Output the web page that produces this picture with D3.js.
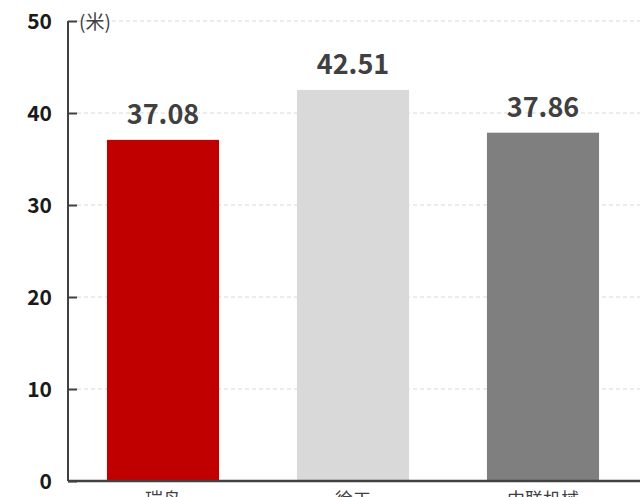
<!DOCTYPE html>
<html><head><meta charset="utf-8">
<script src="https://cdn.jsdelivr.net/npm/d3@7"></script>
<style>body{margin:0;background:#fff}svg{display:block}</style>
</head><body>
<script>
const categories = ["瑞鸟", "徐工", "中联机械"];
const values = [37.08, 42.51, 37.86];
const colors = ["#C00000", "#D9D9D9", "#7F7F7F"];
const yTicks = [0, 10, 20, 30, 40, 50];
const unitLabel = "(米)";

const W = 640, H = 497;
const svg = d3.select("body").append("svg").attr("width", W).attr("height", H);
const font = "'Noto Sans CJK SC','Noto Sans',sans-serif";

const x = d3.scaleBand().domain(categories).range([68, 638]).paddingInner(0.41).paddingOuter(0.205);
const y = d3.scaleLinear().domain([0, 50]).range([481, 21]);

// gridlines
svg.append("g").selectAll("line").data(yTicks.filter(d => d > 0)).join("line")
  .attr("x1", 77).attr("x2", W).attr("y1", d => y(d)).attr("y2", d => y(d))
  .attr("stroke", "#d9d9d9").attr("stroke-width", 1).attr("stroke-dasharray", "4,3");

// bars
svg.append("g").selectAll("rect").data(values).join("rect")
  .attr("x", (d, i) => x(categories[i])).attr("width", x.bandwidth())
  .attr("y", d => y(d)).attr("height", d => y(0) - y(d))
  .attr("fill", (d, i) => colors[i]);

// value labels
svg.append("g").selectAll("text").data(values).join("text")
  .attr("x", (d, i) => x(categories[i]) + x.bandwidth() / 2)
  .attr("y", d => y(d) - 16)
  .attr("text-anchor", "middle").attr("font-family", font).attr("font-weight", "bold")
  .attr("font-size", 27).attr("fill", "#404040").text(d => d.toFixed(2));

// y axis
const yAxis = d3.axisLeft(y).tickValues(yTicks).tickSize(-9).tickPadding(16).tickFormat(d3.format("d"));
const gy = svg.append("g").attr("transform", "translate(68,0)").call(yAxis);
gy.select(".domain").attr("stroke", "#404040").attr("stroke-width", 2).attr("d", `M0,${y(50)}V${y(0)}`);
gy.selectAll(".tick line").attr("stroke", "#404040").attr("stroke-width", 2);
gy.selectAll(".tick text").attr("font-family", font).attr("font-weight", "bold")
  .attr("font-size", 21).attr("fill", "#1a1a1a").attr("x", -16).attr("dy", "0.35em");

// x axis
const xAxis = d3.axisBottom(x).tickSize(0).tickPadding(12);
const gx = svg.append("g").attr("transform", `translate(0,${y(0)})`).call(xAxis);
gx.select(".domain").attr("stroke", "#404040").attr("stroke-width", 2.5).attr("d", `M68,0H${W}`);
gx.selectAll(".tick text").attr("font-family", font).attr("font-size", 18).attr("fill", "#404040");

// unit label
svg.append("text").attr("x", 79).attr("y", y(50)+1).attr("dy", "0.35em")
  .attr("font-family", font).attr("font-size", 19).attr("fill", "#404040").text(unitLabel);
</script>
</body></html>
